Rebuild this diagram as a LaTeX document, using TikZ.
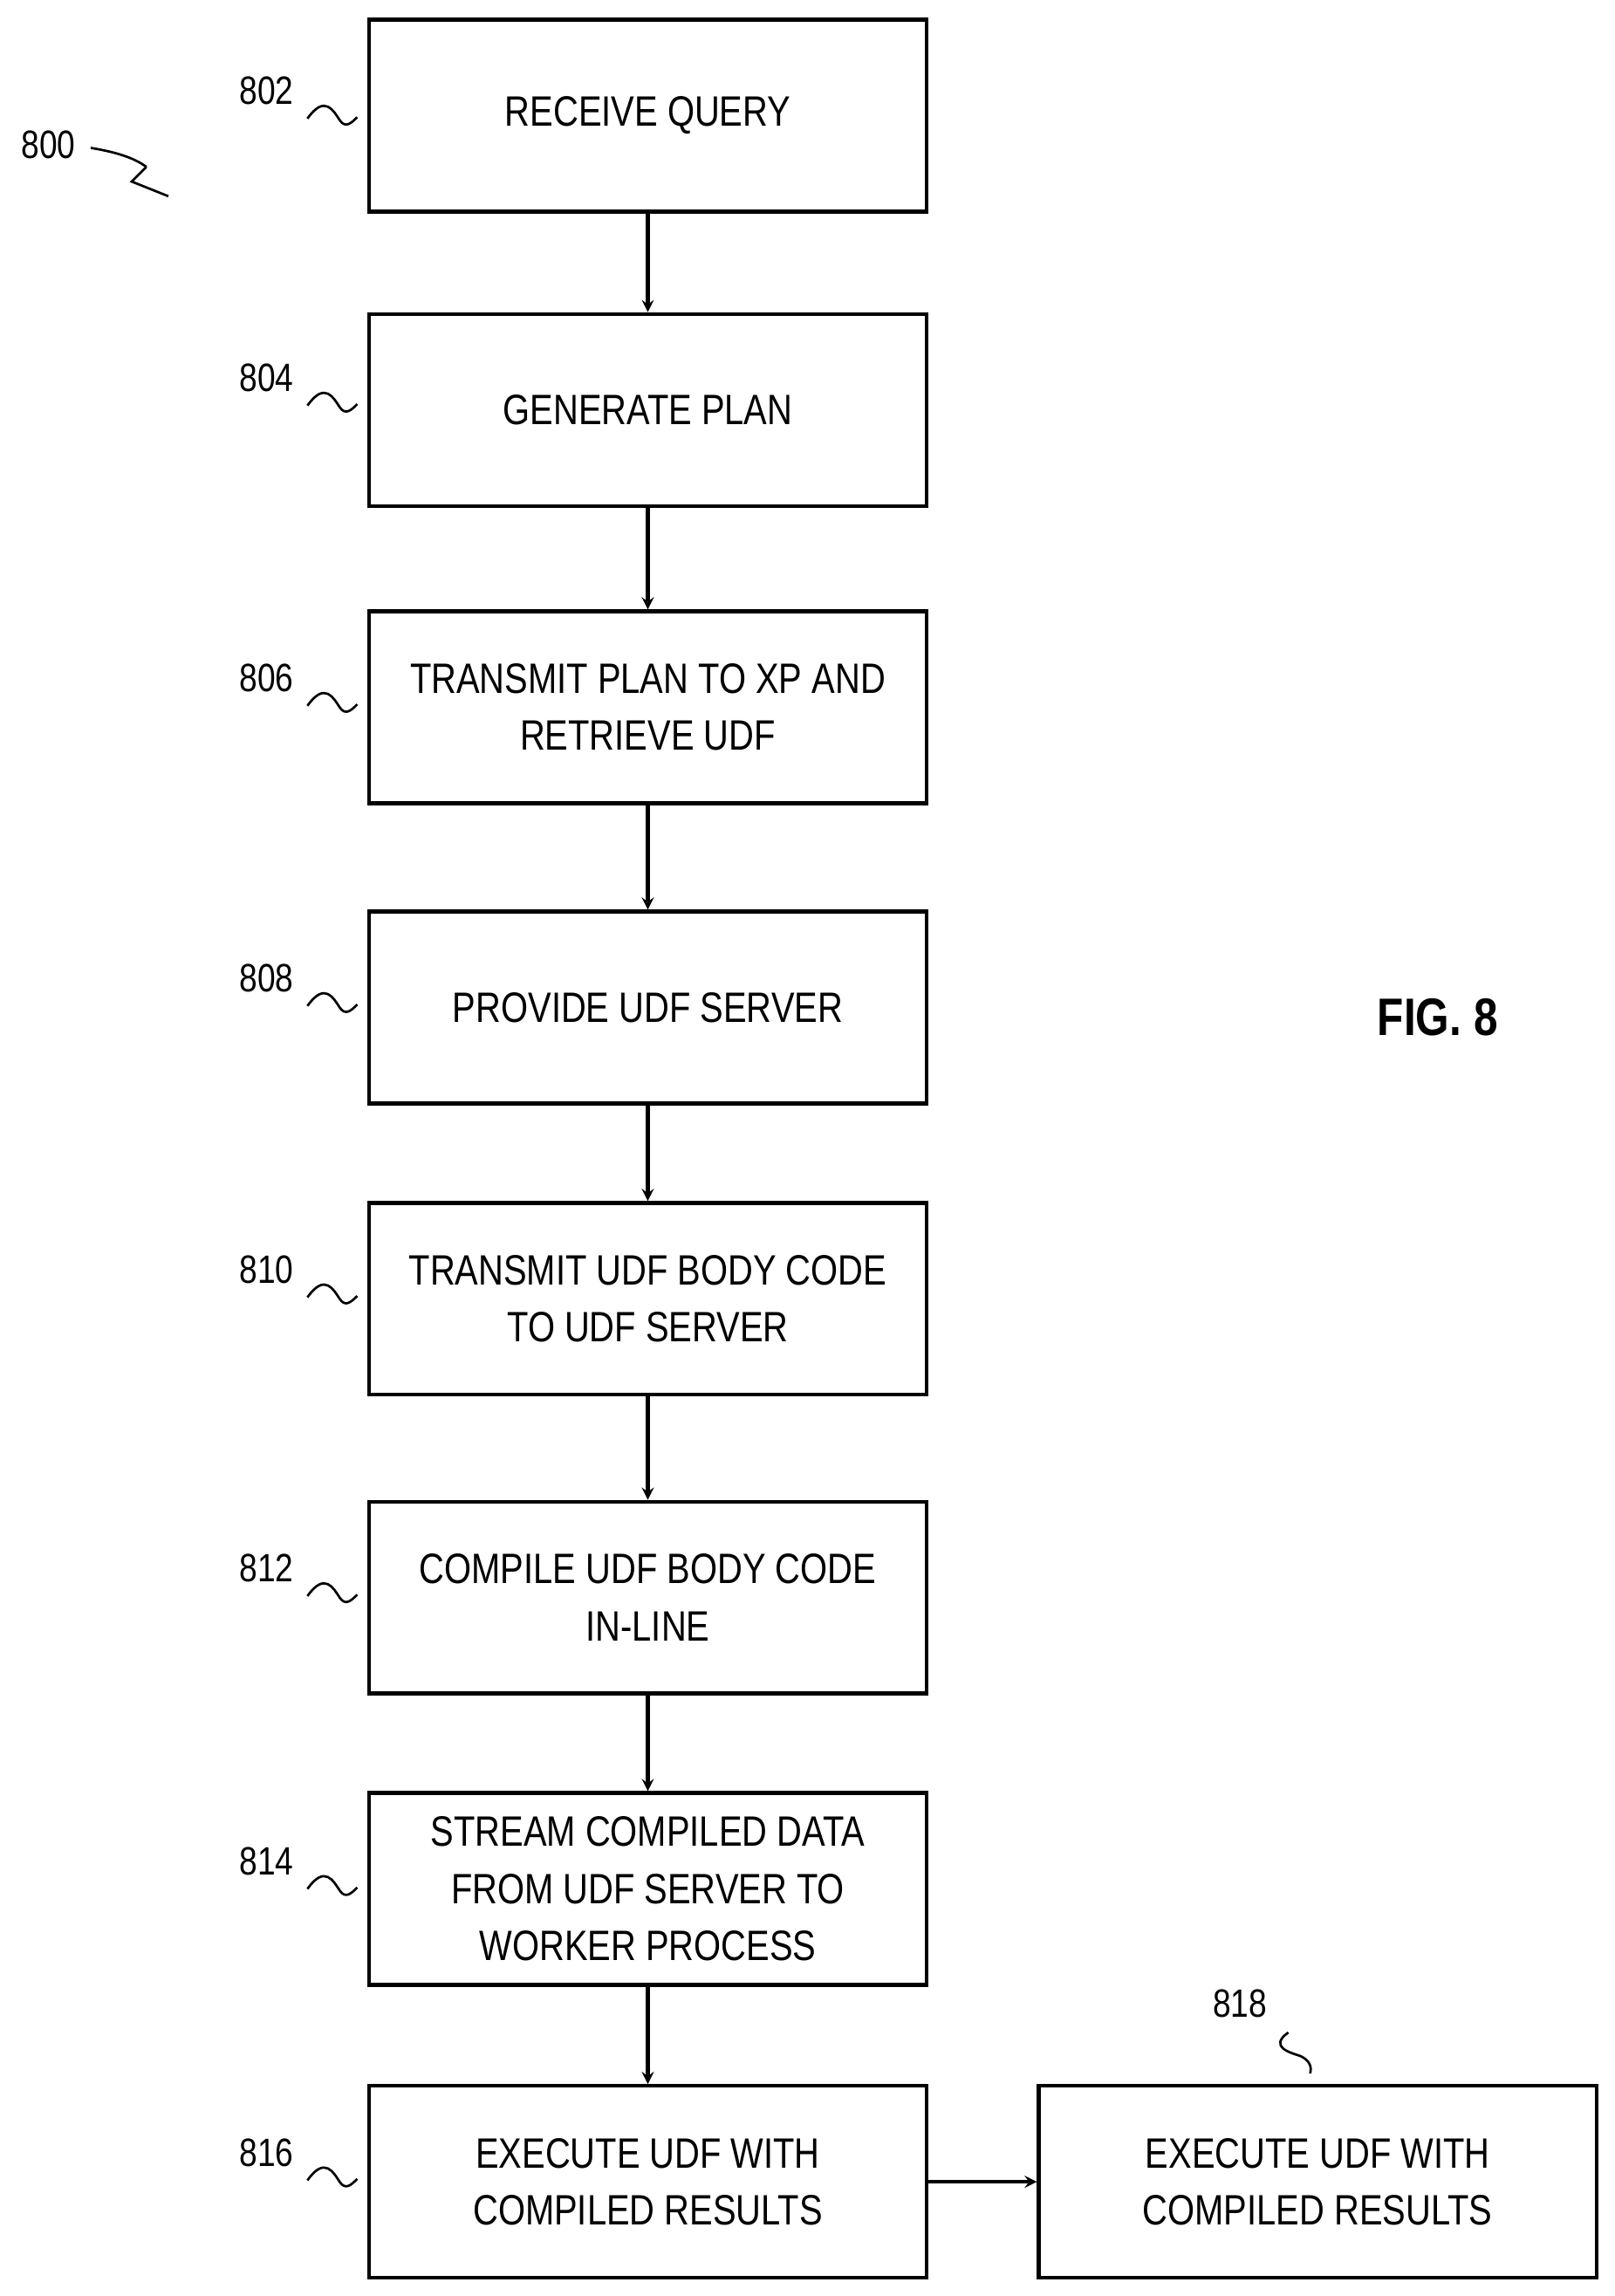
\documentclass[tikz,border=0pt]{standalone}
\usepackage{fontspec}
\setmainfont[FakeStretch=0.82]{Liberation Sans}
\usetikzlibrary{arrows}

\begin{document}
\begin{tikzpicture}%
        [x=1pt, y=-1pt,
        stepbox/.style={draw=black, line width=2.6pt, minimum width=381pt, minimum height=131pt,
                     align=center, inner sep=0pt, font=\fontsize{29}{39}\selectfont},
        flow/.style={line width=2.6pt, -stealth},
        refnum/.style={font=\fontsize{27}{30}\selectfont, inner sep=1pt},
        squig/.style={line width=1.6pt}]
    \useasboundingbox (0,0) rectangle (1103,1568);
    %% Steps of the flow
    \node[stepbox] (s802) at (442.5,79)   {RECEIVE QUERY};
    \node[stepbox] (s804) at (442.5,280)  {GENERATE PLAN};
    \node[stepbox] (s806) at (442.5,483)  {TRANSMIT PLAN TO XP AND\\RETRIEVE UDF};
    \node[stepbox] (s808) at (442.5,688)  {PROVIDE UDF SERVER};
    \node[stepbox] (s810) at (442.5,887)  {TRANSMIT UDF BODY CODE\\TO UDF SERVER};
    \node[stepbox] (s812) at (442.5,1091) {COMPILE UDF BODY CODE\\IN-LINE};
    \node[stepbox] (s814) at (442.5,1290) {STREAM COMPILED DATA\\FROM UDF SERVER TO\\WORKER PROCESS};
    \node[stepbox] (s816) at (442.5,1490) {EXECUTE UDF WITH\\COMPILED RESULTS};
    \node[stepbox] (s818) at (900,1490)   {EXECUTE UDF WITH\\COMPILED RESULTS};
    %% Connectors
    \foreach \a/\b in {s802/s804, s804/s806, s806/s808, s808/s810, s810/s812, s812/s814, s814/s816}
        \draw[flow] (\a) -- (\b);
    \draw[flow] (s816) -- (s818);
    %% Reference numerals
    \foreach \n/\y in {802/62, 804/258, 806/463, 808/668, 810/867, 812/1071, 814/1271, 816/1470}{
        \node[refnum] (n\n) at (182,\y) {\n};
        \draw[squig] (210,\y+19) .. controls (222,\y+2) and (228,\y+14) .. (232,\y+20)
                     .. controls (236,\y+26) and (240,\y+22) .. (244,\y+18);
    }
    \node[refnum] (n818) at (847,1368) {818};
    \draw[squig] (880,1388) .. controls (866,1398) and (882,1402) .. (888,1404)
                 .. controls (895,1407) and (896,1412) .. (895,1416);
    \node[refnum] (n800) at (33,99) {800};
    \draw[squig] (62,101) .. controls (80,104) and (92,108) .. (100,114);
    \draw[squig] (100,114) -- (90,124) -- (115,134);
    %% Figure label
    \node[font=\fontsize{36}{40}\bfseries\selectfont] (fig) at (982,695) {FIG. 8};
\end{tikzpicture}
\end{document}
